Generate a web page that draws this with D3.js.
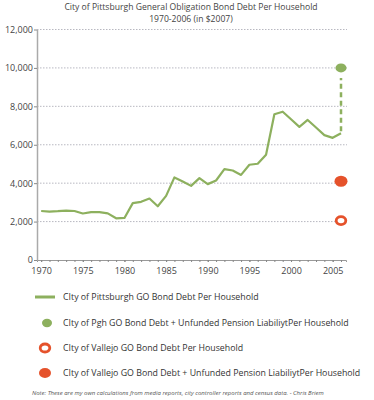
<!DOCTYPE html>
<html>
<head>
<meta charset="utf-8">
<script src="https://cdn.jsdelivr.net/npm/d3@7"></script>
<style>
  body { margin: 0; background: #fff; }
  svg text { font-family: "Open Sans", "DejaVu Sans", sans-serif; fill: #444; }
</style>
</head>
<body>
<div id="chart"></div>
<script>
// data
var years = [1970, 1971, 1972, 1973, 1974, 1975, 1976, 1977, 1978, 1979,
             1980, 1981, 1982, 1983, 1984, 1985, 1986, 1987, 1988, 1989,
             1990, 1991, 1992, 1993, 1994, 1995, 1996, 1997, 1998, 1999,
             2000, 2001, 2002, 2003, 2004, 2005, 2006];
var debt = [2550, 2520, 2540, 2570, 2550, 2420, 2490, 2490, 2430, 2170,
            2190, 2960, 3030, 3200, 2800, 3340, 4300, 4090, 3860, 4260,
            3950, 4140, 4730, 4660, 4430, 4960, 5010, 5480, 7590, 7720,
            7330, 6930, 7290, 6900, 6500, 6360, 6600];
var pghPension = 10000;      // 2006, debt + unfunded pension
var vallejoDebt = 2050;      // 2006
var vallejoPension = 4100;   // 2006
var yTicks = [0, 2000, 4000, 6000, 8000, 10000, 12000];
var xTicks = [1970, 1975, 1980, 1985, 1990, 1995, 2000, 2005];
var legendLabels = [
  "CIty of Pittsburgh GO Bond Debt Per Household",
  "CIty of Pgh GO Bond Debt + Unfunded Pension LiabiliytPer Household",
  "CIty of Vallejo GO Bond Debt Per Household",
  "CIty of Vallejo GO Bond Debt + Unfunded Pension LiabiliytPer Household"
];

var green = "#8db05e";
var orange = "#e5522b";

var width = 374, height = 400;
var svg = d3.select("#chart").append("svg")
    .attr("width", width)
    .attr("height", height);

var x = d3.scaleLinear().domain([1969.5, 2006.6]).range([37, 346]);
var y = d3.scaleLinear().domain([0, 12000]).range([260, 29.5]);

// title
svg.append("text").attr("x", 191).attr("y", 9.5)
    .attr("text-anchor", "middle").style("font-size", "8.6px")
    .text("City of Pittsburgh General Obligation Bond Debt Per Household");
svg.append("text").attr("x", 191).attr("y", 22)
    .attr("text-anchor", "middle").style("font-size", "8.6px")
    .text("1970-2006 (in $2007)");

// dotted gridlines
svg.selectAll(".grid")
    .data(yTicks.filter(function (d) { return d > 0; }))
    .enter().append("line")
    .attr("class", "grid")
    .attr("x1", 37).attr("x2", 347)
    .attr("y1", function (d) { return y(d); })
    .attr("y2", function (d) { return y(d); })
    .attr("stroke", "#b0b0ba")
    .attr("stroke-width", 0.9)
    .attr("stroke-dasharray", "1.5,1.5");

// y axis
var yAxis = svg.append("g")
    .attr("transform", "translate(37,0)")
    .call(d3.axisLeft(y).tickValues(yTicks).tickSize(3).tickSizeOuter(0)
        .tickFormat(d3.format(",")));
yAxis.select(".domain").attr("stroke", "#aaa").attr("stroke-width", 1.5);
yAxis.selectAll(".tick line").attr("stroke", "#888");
yAxis.selectAll("text").style("font-size", "9px").attr("x", -4);

// x axis: minor year ticks then labelled ticks
var xMinor = svg.append("g")
    .attr("transform", "translate(0,260)")
    .call(d3.axisBottom(x).tickValues(years).tickSize(2).tickFormat(""));
xMinor.select(".domain").attr("stroke", "#999").attr("stroke-width", 1);
xMinor.selectAll(".tick line").attr("stroke", "#888");

var xAxis = svg.append("g")
    .attr("transform", "translate(0,260)")
    .call(d3.axisBottom(x).tickValues(xTicks).tickSize(2).tickFormat(d3.format("d")));
xAxis.select(".domain").remove();
xAxis.selectAll(".tick line").attr("stroke", "#888");
xAxis.selectAll("text").style("font-size", "9px").attr("y", 8);

// main line
var line = d3.line()
    .x(function (d, i) { return x(years[i]); })
    .y(function (d) { return y(d); });
svg.append("path")
    .datum(debt)
    .attr("d", line)
    .attr("fill", "none")
    .attr("stroke", green)
    .attr("stroke-width", 2.2)
    .attr("stroke-linejoin", "round");

// dashed connector up to pension dot
var lastYear = years[years.length - 1];
svg.append("line")
    .attr("x1", x(lastYear)).attr("x2", x(lastYear))
    .attr("y1", y(debt[debt.length - 1]) - 2)
    .attr("y2", y(pghPension) + 10)
    .attr("stroke", green)
    .attr("stroke-width", 2.5)
    .attr("stroke-dasharray", "5,3.5");

svg.append("ellipse")
    .attr("cx", x(lastYear)).attr("cy", y(pghPension))
    .attr("rx", 5.5).attr("ry", 4.5)
    .attr("fill", green);

svg.append("ellipse")
    .attr("cx", x(lastYear)).attr("cy", y(vallejoPension))
    .attr("rx", 6.5).attr("ry", 5.5)
    .attr("fill", orange);

svg.append("ellipse")
    .attr("cx", x(lastYear)).attr("cy", y(vallejoDebt))
    .attr("rx", 4.8).attr("ry", 4)
    .attr("fill", "#fff")
    .attr("stroke", orange)
    .attr("stroke-width", 2.8);

// legend
var legY = [297, 323, 348, 373];
var leg = svg.selectAll(".leg")
    .data(legendLabels)
    .enter().append("g")
    .attr("class", "leg")
    .attr("transform", function (d, i) { return "translate(0," + legY[i] + ")"; });

leg.append("text")
    .attr("x", 63).attr("y", 3)
    .style("font-size", "8.8px")
    .style("fill", "#333")
    .text(function (d) { return d; });

d3.select(leg.nodes()[0]).append("line")
    .attr("x1", 35).attr("x2", 55)
    .attr("stroke", green).attr("stroke-width", 3);
d3.select(leg.nodes()[1]).append("ellipse")
    .attr("cx", 47).attr("rx", 5).attr("ry", 4.2).attr("fill", green);
d3.select(leg.nodes()[2]).append("ellipse")
    .attr("cx", 45).attr("rx", 4.8).attr("ry", 4)
    .attr("fill", "#fff").attr("stroke", orange).attr("stroke-width", 2.8);
d3.select(leg.nodes()[3]).append("ellipse")
    .attr("cx", 45).attr("rx", 6).attr("ry", 5).attr("fill", orange);

// note
svg.append("text")
    .attr("x", 32).attr("y", 395)
    .style("font-size", "6px")
    .style("font-style", "italic")
    .style("fill", "#555")
    .text("Note:  These are my own calculations from media reports, city controller reports and census data. - Chris Briem");
</script>
</body>
</html>
